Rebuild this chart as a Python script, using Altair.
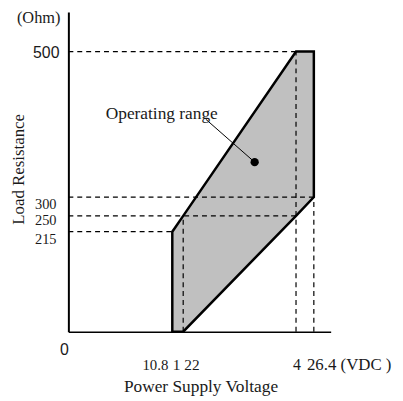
import altair as alt
import pandas as pd

# ---------------- data ----------------
# schematic (non-linear) axis breakpoints and their share of the axis length
x_break = [0, 10.8, 12, 24, 26.4, 28]
x_break_px = [0, 105, 116, 230, 248, 265]
y_break = [0, 215, 250, 300, 500, 570]
y_break_px = [323, 222, 206, 187, 40, 0]

x_ticks = [10.8, 12, 24, 26.4]
x_tick_labels = ["10.8", "1 22", "4", "26.4 (VDC )"]
y_ticks = [215, 250, 300]
y_tick_labels = ["215", "250", "300"]
y_top_tick = [500]
y_top_label = ["500"]

# operating range: voltage, min load, max load
range_v = [10.8, 12, 24, 26.4]
range_low = [0, 0, 250, 300]
range_high = [215, 250, 500, 500]

# dashed guide lines
guide_x1 = [0, 0, 0, 0, 12, 24, 26.4]
guide_x2 = [24, 26.4, 24, 10.8, 12, 24, 26.4]
guide_y1 = [500, 300, 250, 215, 0, 0, 0]
guide_y2 = [500, 300, 250, 215, 250, 500, 300]

# annotation
annot_label = ["Operating range"]
annot_x = [9.7]
annot_y = [414]
leader_x1 = [14.4]
leader_y1 = [407]
dot_x = [19.6]
dot_y = [348]

SERIF = "Liberation Serif"
SANS = "Liberation Sans"
INK = "#1a1a1a"

xs = alt.Scale(domain=x_break, range=x_break_px, nice=False, zero=False)
ys = alt.Scale(domain=y_break, range=y_break_px, nice=False, zero=False)

axis_x = alt.Axis(domain=True, domainColor="black", domainWidth=1.6, ticks=False,
                  labels=False, grid=False, title=None)
axis_y = alt.Axis(domain=True, domainColor="black", domainWidth=2, ticks=False,
                  labels=False, grid=False, title=None)


def X(f):
    return alt.X(f, scale=xs, axis=axis_x)


def Y(f):
    return alt.Y(f, scale=ys, axis=axis_y)


area_df = pd.DataFrame({"v": range_v, "lo": range_low, "hi": range_high})
guide_df = pd.DataFrame({"x1": guide_x1, "x2": guide_x2, "y1": guide_y1, "y2": guide_y2})
xt_df = pd.DataFrame({"v": x_ticks, "t": x_tick_labels})
yt_df = pd.DataFrame({"v": y_ticks, "t": y_tick_labels})
ytop_df = pd.DataFrame({"v": y_top_tick, "t": y_top_label})
ann_df = pd.DataFrame({"x": annot_x, "y": annot_y, "t": annot_label})
lead_df = pd.DataFrame({"x1": leader_x1, "y1": leader_y1, "x2": dot_x, "y2": dot_y})
dot_df = pd.DataFrame({"x": dot_x, "y": dot_y})

area = alt.Chart(area_df).mark_area(
    fill="#c0c0c0", stroke="black", strokeWidth=2.5, strokeJoin="miter", opacity=1
).encode(x=X("v:Q"), y=Y("lo:Q"), y2="hi:Q")

guides = alt.Chart(guide_df).mark_rule(
    color="black", strokeWidth=1.2, strokeDash=[5, 4]
).encode(x=X("x1:Q"), x2="x2:Q", y=Y("y1:Q"), y2="y2:Q")

leader = alt.Chart(lead_df).mark_rule(color="black", strokeWidth=1).encode(
    x=X("x1:Q"), x2="x2:Q", y=Y("y1:Q"), y2="y2:Q"
)

dot = alt.Chart(dot_df).mark_point(filled=True, color="black", size=70, opacity=1).encode(
    x=X("x:Q"), y=Y("y:Q")
)

ann = alt.Chart(ann_df).mark_text(font=SERIF, fontSize=17.5, color=INK, baseline="middle").encode(
    x=X("x:Q"), y=Y("y:Q"), text="t:N"
)


def xlab(i, align, dx, size):
    return alt.Chart(xt_df.iloc[i:i + 1]).mark_text(
        font=SERIF, fontSize=size, color=INK, align=align, baseline="middle", dx=dx, dy=34
    ).encode(x=X("v:Q"), y=alt.value(323), text="t:N")


xl1 = xlab(0, "right", -4, 15)
xl2 = xlab(1, "center", 3, 15.5)
xl3 = xlab(2, "center", 1, 16)
xl4 = xlab(3, "left", -7, 17)


def ylab(i, dy):
    return alt.Chart(yt_df.iloc[i:i + 1]).mark_text(
        font=SERIF, fontSize=14.5, color=INK, align="right", baseline="middle", dy=dy
    ).encode(x=alt.value(-12), y=Y("v:Q"), text="t:N")


yl1 = ylab(0, 8)
yl2 = ylab(1, 5)
yl3 = ylab(2, 8)

ytop = alt.Chart(ytop_df).mark_text(
    font=SANS, fontSize=16, color=INK, align="right", baseline="middle", dy=2
).encode(x=alt.value(-9), y=Y("v:Q"), text="t:N")

origin = alt.Chart(pd.DataFrame({"t": ["0"]})).mark_text(
    font=SANS, fontSize=16, color=INK, align="center", baseline="middle"
).encode(x=alt.value(-4), y=alt.value(342), text="t:N")

ohm = alt.Chart(pd.DataFrame({"t": ["(Ohm)"]})).mark_text(
    font=SERIF, fontSize=16.5, color=INK, align="center", baseline="middle"
).encode(x=alt.value(-30), y=alt.value(6), text="t:N")

ytitle = alt.Chart(pd.DataFrame({"t": ["Load Resistance"]})).mark_text(
    font=SERIF, fontSize=17, color=INK, align="center", baseline="middle", angle=270
).encode(x=alt.value(-50), y=alt.value(159), text="t:N")

xtitle = alt.Chart(pd.DataFrame({"t": ["Power Supply Voltage"]})).mark_text(
    font=SERIF, fontSize=17.5, color=INK, align="center", baseline="middle"
).encode(x=alt.value(134), y=alt.value(379), text="t:N")

chart = alt.layer(
    area, guides, leader, dot, ann,
    xl1, xl2, xl3, xl4, yl1, yl2, yl3, ytop, origin, ohm, ytitle, xtitle,
).properties(
    width=264, height=323,
    autosize=alt.AutoSizeParams(type="none"),
    padding={"left": 61, "top": 2, "right": 66, "bottom": 66},
).configure_view(stroke=None)

chart.save("out.html", embed_options={"renderer": "svg", "actions": False})
